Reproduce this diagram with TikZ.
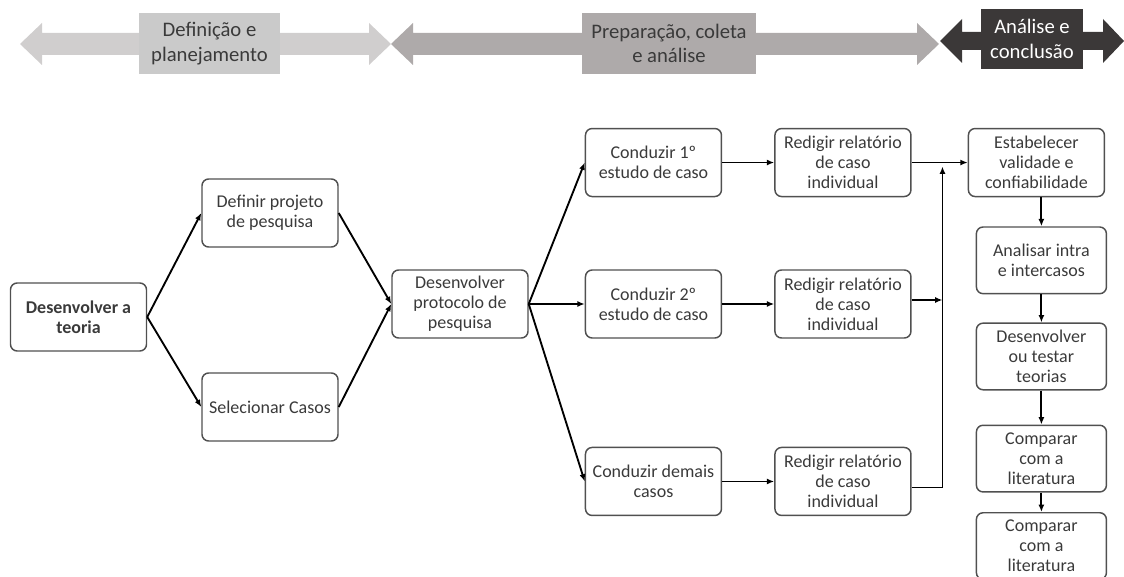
\documentclass[tikz,border=0pt]{standalone}
\usepackage{fontspec}
\setmainfont{Carlito}
\usetikzlibrary{arrows.meta, positioning, calc}

\definecolor{phaseA}{HTML}{D0CECE}
\definecolor{phaseAbox}{HTML}{CACACA}
\definecolor{phaseB}{HTML}{AEAAAA}
\definecolor{phaseC}{HTML}{3B3838}
\definecolor{boxtext}{HTML}{3A3A3A}
\definecolor{boxline}{HTML}{505050}

\begin{document}
\begin{tikzpicture}[
  x=0.75pt, y=-0.75pt,
  >={Latex[length=5.5pt,width=4.5pt]},
  task/.style  = {draw=boxline, line width=1.1pt, rounded corners=5pt, text=boxtext, align=center,
                  minimum width=102pt, minimum height=51pt, inner sep=2pt,
                  font=\fontsize{13.5}{15}\selectfont},
  check/.style = {task, minimum width=97.5pt, minimum height=50pt},
  phase/.style = {align=center, inner sep=0pt, minimum height=45.75pt,
                  font=\fontsize{15.5}{18.5}\selectfont},
  flow/.style  = {->, line width=1.4pt},
]
  \useasboundingbox (0,0) rectangle (1124,577);

  % phase banner
  \fill[phaseA] (20,44) -- (42,23) -- (42,33) -- (369,33) -- (369,23) -- (391,44)
                -- (369,65) -- (369,55) -- (42,55) -- (42,65) -- cycle;
  \fill[phaseB] (391,44) -- (413,23) -- (413,33) -- (917,33) -- (917,23) -- (939,44)
                -- (917,65) -- (917,55) -- (413,55) -- (413,65) -- cycle;
  \fill[phaseC] (940,41) -- (962,19) -- (962,32) -- (1103,32) -- (1103,19) -- (1124,41)
                -- (1103,63) -- (1103,50) -- (962,50) -- (962,63) -- cycle;

  \node[phase, fill=phaseAbox, text=boxtext, minimum width=105.75pt] (fase1) at (209.5,43.5) {Definição e\\planejamento};
  \node[phase, fill=phaseB,    text=boxtext, minimum width=130.5pt]  (fase2) at (669,43.5)   {Preparação, coleta\\e análise};
  \node[phase, fill=phaseC,    text=white,   minimum width=76.5pt, minimum height=45pt] (fase3) at (1032,39) {Análise e\\conclusão};

  % definition and planning
  \node[task, font=\fontsize{13.5}{15}\selectfont\bfseries] (teoria) at (78.5,317) {Desenvolver a\\teoria};
  \node[task]                          (projeto)   at (270,213) {Definir projeto\\de pesquisa};
  \node[task]                          (casos)     at (270,407) {Selecionar Casos};
  \node[task]                          (protocolo) at (460,304) {Desenvolver\\protocolo de\\pesquisa};

  % cases
  \node[task, right=42pt of protocolo] (cond2)  {Conduzir 2º\\estudo de caso};
  \node[task, above=54pt of cond2]     (cond1)  {Conduzir 1º\\estudo de caso};
  \node[task, below=81pt of cond2]     (demais) {Conduzir demais\\casos};
  \node[task, right=39pt of cond1]     (rel1)   {Redigir relatório\\de caso\\individual};
  \node[task, right=39pt of cond2]     (rel2)   {Redigir relatório\\de caso\\individual};
  \node[task, right=39pt of demais]    (rel3)   {Redigir relatório\\de caso\\individual};

  % analysis column
  \node[task, right=42pt of rel1]                   (valid)   {Estabelecer\\validade e\\confiabilidade};
  \node[check, below=21.75pt of valid, xshift=3.75pt] (intra)   {Analisar intra\\e intercasos};
  \node[check, below=21pt of intra]                 (teorias) {Desenvolver\\ou testar\\teorias};
  \node[check, below=25.5pt of teorias]             (lit1)    {Comparar\\com a\\literatura};
  \node[check, below=14.5pt of lit1]                (lit2)    {Comparar\\com a\\literatura};

  \draw[flow] (teoria.east)    -- (projeto.west);
  \draw[flow] (teoria.east)    -- (casos.west);
  \draw[flow] (projeto.east)   -- (protocolo.west);
  \draw[flow] (casos.east)     -- (protocolo.west);
  \draw[flow] (protocolo.east) -- (cond1.west);
  \draw[flow] (protocolo.east) -- (cond2.west);
  \draw[flow] (protocolo.east) -- (demais.west);
  \draw[flow] (cond1)  -- (rel1);
  \draw[flow] (cond2)  -- (rel2);
  \draw[flow] (demais) -- (rel3);
  \draw[flow] (rel1)   -- (valid);

  % reports join
  \coordinate (merge) at ($(rel1.east)!0.55!(valid.west)$);
  \draw[flow] ([yshift=3pt]rel2.east) -- ([yshift=3pt]rel2.east -| merge);
  \draw[flow] ([yshift=-4.5pt]rel3.east) -| ([yshift=-3pt]merge);

  \draw[flow] (valid.south -| intra) -- (intra);
  \draw[flow] (intra)   -- (teorias);
  \draw[flow] (teorias) -- (lit1);
  \draw[flow] (lit1)    -- (lit2);
\end{tikzpicture}
\end{document}
